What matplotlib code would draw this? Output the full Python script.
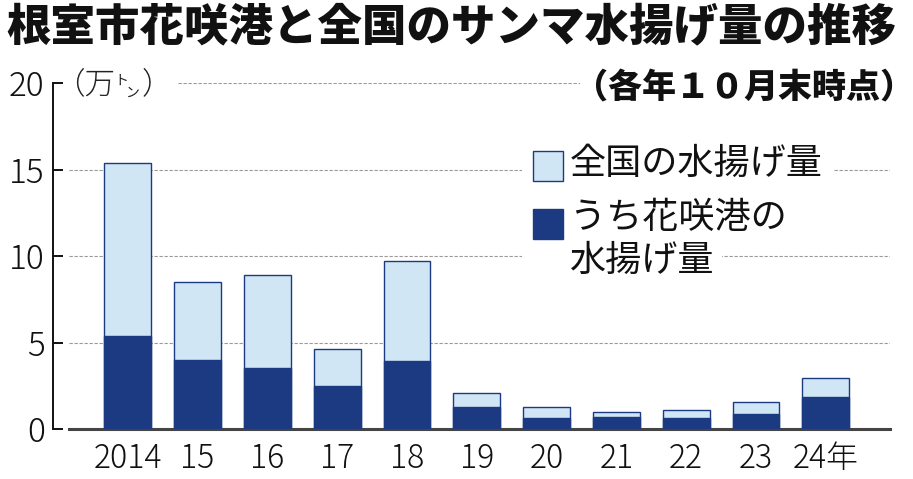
import matplotlib
matplotlib.use("Agg")
import matplotlib.pyplot as plt
from matplotlib.patches import Rectangle

years = ["2014", "15", "16", "17", "18", "19", "20", "21", "22", "23", "24年"]
national = [15.4, 8.5, 8.9, 4.6, 9.7, 2.1, 1.3, 0.96, 1.1, 1.55, 2.96]
hanasaki = [5.4, 4.0, 3.5, 2.5, 3.95, 1.27, 0.65, 0.71, 0.65, 0.88, 1.85]
yticks = [0, 5, 10, 15, 20]

title = "根室市花咲港と全国のサンマ水揚げ量の推移"
subtitle = "（各年１０月末時点）"
legend_labels = ["全国の水揚げ量", "うち花咲港の", "水揚げ量"]

NAVY = "#1b3a82"
LIGHT = "#d0e6f4"
W, H = 913, 479
CJK = ["Noto Sans CJK JP", "DejaVu Sans"]

plt.rcParams["font.family"] = CJK

fig = plt.figure(figsize=(W / 100, H / 100), dpi=100)
ax = fig.add_axes([53 / W, 1 - 429 / H, (890 - 53) / W, (429 - 83) / H])

x = list(range(len(years)))
ax.bar(x, national, width=0.67, color=LIGHT, edgecolor=NAVY, linewidth=1.0, zorder=3)
ax.bar(x, hanasaki, width=0.67, color=NAVY, edgecolor=NAVY, linewidth=1.0, zorder=4)

ax.set_xlim(-1.07, 10.92)
ax.set_ylim(0, 20)

for v in yticks[1:]:
    xmin = -0.84 if v != 20 else 0.72
    ax.hlines(v, xmin, 10.92, colors="#9a9a9a", linestyles=(0, (3, 1.5)), linewidth=0.8, zorder=1)

for s in ["top", "right"]:
    ax.spines[s].set_visible(False)
ax.spines["left"].set_color("#111111")
ax.spines["left"].set_linewidth(1.4)
ax.spines["bottom"].set_color("#444444")
ax.spines["bottom"].set_linewidth(2.2)
ax.spines["bottom"].set_bounds(-0.84, 10.92)

ax.set_yticks(yticks)
ax.set_yticklabels([str(v) for v in yticks], fontsize=24, fontweight="light", color="#111111")
ax.tick_params(axis="y", direction="in", length=7.5, width=1.4, color="#111111", pad=6)
ax.set_xticks(x)
ax.set_xticklabels(years, fontsize=23, fontweight="light", color="#111111")
ax.tick_params(axis="x", length=0, pad=9)


def fx(px):
    return px / W


def fy(py):
    return 1 - py / H


fig.text(fx(6), fy(27), title, fontsize=32, fontweight="heavy", ha="left", va="center", color="#111111")
fig.add_artist(Rectangle((fx(580), fy(108)), fx(333), 40 / H, transform=fig.transFigure,
                         facecolor="white", edgecolor="none", zorder=5))
fig.text(fx(914), fy(88), subtitle, fontsize=24.5, fontweight="heavy", ha="right", va="center",
         color="#111111", zorder=7)

# unit label
fig.text(fx(54), fy(84), "（万", fontsize=22, fontweight="light", ha="left", va="center", color="#222222")
fig.text(fx(121), fy(81), "ト", fontsize=10, ha="center", va="center", color="#222222")
fig.text(fx(132), fy(93), "ン", fontsize=10, ha="center", va="center", color="#222222")
fig.text(fx(142), fy(84), "）", fontsize=22, fontweight="light", ha="left", va="center", color="#222222")

# legend
fig.add_artist(Rectangle((fx(522), fy(186)), fx(312), 42 / H, transform=fig.transFigure,
                         facecolor="white", edgecolor="none", zorder=5))
fig.add_artist(Rectangle((fx(522), fy(282)), fx(200), 42 / H, transform=fig.transFigure,
                         facecolor="white", edgecolor="none", zorder=5))
fig.add_artist(Rectangle((fx(533), fy(181)), fx(30), 30 / H, transform=fig.transFigure,
                         facecolor=LIGHT, edgecolor=NAVY, linewidth=1.0, zorder=6))
fig.add_artist(Rectangle((fx(533), fy(239)), fx(30), 30 / H, transform=fig.transFigure,
                         facecolor=NAVY, edgecolor=NAVY, linewidth=1.0, zorder=6))
fig.text(fx(570), fy(164), legend_labels[0], fontsize=26, ha="left", va="center", color="#111111", zorder=7)
fig.text(fx(570), fy(218), legend_labels[1], fontsize=26, ha="left", va="center", color="#111111", zorder=7)
fig.text(fx(570), fy(261), legend_labels[2], fontsize=26, ha="left", va="center", color="#111111", zorder=7)

fig.savefig("out.png", dpi=100)
